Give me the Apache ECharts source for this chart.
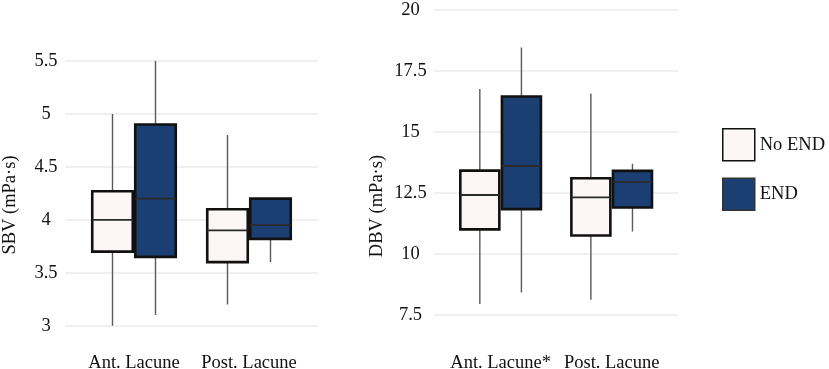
<!DOCTYPE html>
<html>
<head>
<meta charset="utf-8">
<script src="https://cdn.jsdelivr.net/npm/echarts@6.0.0/dist/echarts.min.js"></script>
<style>
  html, body { margin: 0; padding: 0; background: #fff; }
  #chart { width: 829px; height: 369px; }
</style>
</head>
<body>
<div id="chart"></div>
<script>
// categories and groups
const categoriesSbv = ['Ant. Lacune', 'Post. Lacune'];
const categoriesDbv = ['Ant. Lacune*', 'Post. Lacune'];
const groupNames = ['No END', 'END'];

// box stats: [min, Q1, median, Q3, max]
const sbvNoEnd = [[3.0, 3.7, 4.0, 4.27, 5.0], [3.2, 3.6, 3.9, 4.1, 4.8]];
const sbvEnd = [[3.1, 3.65, 4.2, 4.9, 5.5], [3.6, 3.82, 3.95, 4.2, 4.2]];
const dbvNoEnd = [[7.94, 11.0, 12.41, 13.41, 16.76], [8.11, 10.75, 12.31, 13.1, 16.57]];
const dbvEnd = [[8.41, 11.83, 13.6, 16.45, 18.46], [10.91, 11.9, 12.95, 13.4, 13.69]];

// y tick labels
const sbvTicks = [3, 3.5, 4, 4.5, 5, 5.5];
const dbvTicks = [7.5, 10, 12.5, 15, 17.5, 20];

const FONT = '"Liberation Serif", "Times New Roman", serif';
const FS = 18.5;
const fills = ['#fcf6f6', '#1b3f73'];

const chart = echarts.init(document.getElementById('chart'));

const grids = [], xAxes = [], yAxes = [], series = [];

function addGrid(left, width, top, height, xAxis, yAxis) {
  const gi = grids.length;
  grids.push({ left: left, width: width, top: top, height: height, outerBoundsMode: 'none' });
  xAxes.push(Object.assign({ gridIndex: gi }, xAxis));
  yAxes.push(Object.assign({ gridIndex: gi }, yAxis));
  return gi;
}

// one panel = background grid (gridlines, y labels) + label grid + one grid per box layer
function addPanel(p) {
  const height = p.bottom - p.top;
  const yRange = {
    type: 'value',
    min: p.ticks[0],
    max: p.ticks[p.ticks.length - 1],
    interval: p.ticks[1] - p.ticks[0]
  };
  addGrid(p.left, p.width, p.top, height,
    { type: 'value', show: false, min: 0, max: 1 },
    Object.assign({}, yRange, {
      axisLine: { show: false },
      axisTick: { show: false },
      axisLabel: { margin: p.yLabelMargin, align: 'center', fontFamily: FONT, fontSize: FS, color: '#111' },
      splitLine: { lineStyle: { color: '#ebebeb', width: 1.5 } }
    }));

  // ggplot style discrete axis: positions 1,2 in range 0.4..2.6
  const unit = p.width / 2.2;
  const c1 = p.left + unit * 0.6;
  addGrid(c1 - unit / 2, unit * 2, p.top, height,
    {
      type: 'category', data: p.categories,
      axisLine: { show: false }, axisTick: { show: false },
      axisLabel: { interval: 0, margin: p.xLabelMargin, fontFamily: FONT, fontSize: FS, color: '#111' }
    },
    Object.assign({}, yRange, { show: false }));

  [p.noEnd, p.end].forEach(function (rows, k) {
    const shift = (k === 0 ? -1 : 1) * p.dodge;
    const layers = [
      // whiskers
      { name: groupNames[k] + ' whisker', data: rows, boxWidth: [0, 0],
        itemStyle: { color: 'rgba(0,0,0,0)', borderColor: '#5a5a5a', borderWidth: 1.4 }, z: 2 },
      // box body
      { name: groupNames[k], data: rows.map(function (r) { return [r[1], r[1], r[1], r[3], r[3]]; }),
        boxWidth: [p.boxW, p.boxW],
        itemStyle: { color: fills[k], borderColor: '#111', borderWidth: 2.6 }, z: 3 },
      // median
      { name: groupNames[k] + ' median', data: rows.map(function (r) { return [r[2], r[2], r[2], r[2], r[2]]; }),
        boxWidth: [p.boxW, p.boxW],
        itemStyle: { color: 'rgba(0,0,0,0)', borderColor: '#2a2a2a', borderWidth: 1.8 }, z: 4 }
    ];
    layers.forEach(function (l) {
      const gi = addGrid(c1 + shift - unit / 2, unit * 2, p.top, height,
        { type: 'category', data: p.categories, show: false },
        Object.assign({}, yRange, { show: false }));
      series.push(Object.assign({
        type: 'boxplot', xAxisIndex: gi, yAxisIndex: gi, silent: true,
        emphasis: { disabled: true }
      }, l));
    });
  });
}

addPanel({
  top: 61, bottom: 325.7, left: 65, width: 253,
  ticks: sbvTicks, categories: categoriesSbv,
  noEnd: sbvNoEnd, end: sbvEnd,
  dodge: 21.5, boxW: 40.5, yLabelMargin: 19, xLabelMargin: 28
});
addPanel({
  top: 10, bottom: 314.7, left: 434, width: 244.3,
  ticks: dbvTicks, categories: categoriesDbv,
  noEnd: dbvNoEnd, end: dbvEnd,
  dodge: 20.8, boxW: 39, yLabelMargin: 23.5, xLabelMargin: 39
});

const option = {
  backgroundColor: '#fff',
  animation: false,
  grid: grids,
  xAxis: xAxes,
  yAxis: yAxes,
  legend: {
    orient: 'vertical',
    left: 722,
    top: 128,
    padding: 0,
    icon: 'rect',
    itemWidth: 32,
    itemHeight: 32,
    itemGap: 16,
    selectedMode: false,
    data: [
      { name: 'No END', itemStyle: { color: fills[0], borderColor: '#111', borderWidth: 1.5 } },
      { name: 'END', itemStyle: { color: fills[1], borderColor: '#333', borderWidth: 1.5 } }
    ],
    textStyle: { fontFamily: FONT, fontSize: FS, color: '#111' }
  },
  graphic: [
    { type: 'text', x: 10, y: 205, rotation: Math.PI / 2,
      style: { text: 'SBV (mPa·s)', font: FS + 'px ' + FONT, fill: '#111', align: 'center', verticalAlign: 'middle' } },
    { type: 'text', x: 377.5, y: 206, rotation: Math.PI / 2,
      style: { text: 'DBV (mPa·s)', font: FS + 'px ' + FONT, fill: '#111', align: 'center', verticalAlign: 'middle' } }
  ],
  series: series
};

chart.setOption(option);
</script>
</body>
</html>
